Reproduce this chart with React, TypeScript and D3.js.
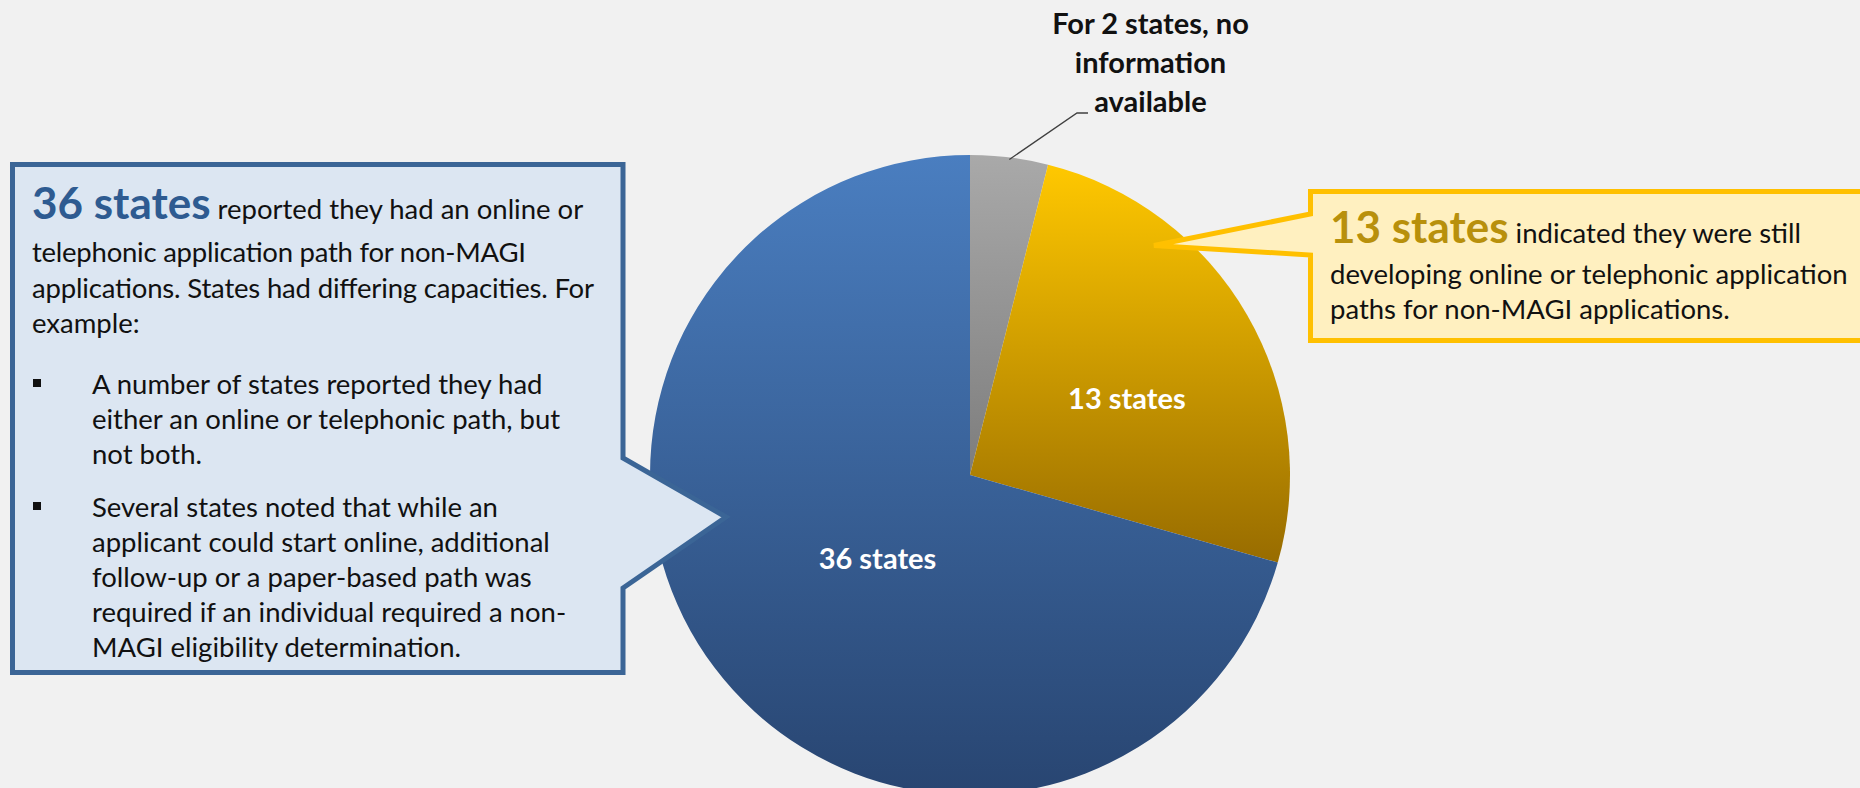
import React from 'react';
import * as d3 from 'd3';

// Slice data, ordered clockwise from 12 o'clock
const sliceKeys = ['noInfo', 'developing', 'available'];
const stateCounts = [2, 13, 36];
const sliceLabels = ['', '13 states', '36 states'];

// Callout text
const noInfoLines = ['For 2 states, no', 'information', 'available'];

const leftLeadCount = '36 states';
const leftLeadRest = ' reported they had an online or';
const leftLines = [
  'telephonic application path for non-MAGI',
  'applications. States had differing capacities. For',
  'example:',
];
const leftBullets = [
  ['A number of states reported they had', 'either an online or telephonic path, but', 'not both.'],
  [
    'Several states noted that while an',
    'applicant could start online, additional',
    'follow-up or a paper-based path was',
    'required if an individual required a non-',
    'MAGI eligibility determination.',
  ],
];

const rightLeadCount = '13 states';
const rightLeadRest = ' indicated they were still';
const rightLines = ['developing online or telephonic application', 'paths for non-MAGI applications.'];

const W = 1860;
const H = 788;
const FONT = "Lato, 'Open Sans', sans-serif";

const gradients: Record<string, [string, string]> = {
  noInfo: ['#A9A9A9', '#7D7D7D'],
  developing: ['#FFC800', '#986C00'],
  available: ['#4A7EC0', '#284571'],
};

// label placement: fraction along the slice's angular span, fraction of radius
const labelPlacement: Record<string, { t: number; r: number }> = {
  noInfo: { t: 0.5, r: 0.6 },
  developing: { t: 0.545, r: 0.545 },
  available: { t: 0.48, r: 0.39 },
};

// set widths for the first paragraph's wrapped lines (px)
const leftLineWidths: (number | undefined)[] = [494, 562, undefined];

export default function App() {
  const cx = 970;
  const cy = 475;
  const radius = 320;

  const pie = d3
    .pie<number>()
    .sort(null)
    .value((d) => d)
    .startAngle(0)
    .endAngle(2 * Math.PI);
  const arcs = pie(stateCounts);
  const arc = d3.arc<d3.PieArcDatum<number>>().innerRadius(0).outerRadius(radius);

  const bodySize = 27.5;
  const leadSize = 44;
  const lineStep = 35;

  // left callout outline (stroke centerline)
  const L = { x0: 12.5, y0: 164.5, x1: 623, y1: 672.5 };
  const leftPath = [
    [L.x0, L.y0],
    [L.x1, L.y0],
    [L.x1, 458],
    [726, 517],
    [L.x1, 588],
    [L.x1, L.y1],
    [L.x0, L.y1],
  ];
  const R = { x0: 1310.5, y0: 191.5, x1: 1875, y1: 340.5 };
  const rightPath = [
    [R.x0, R.y0],
    [R.x1, R.y0],
    [R.x1, R.y1],
    [R.x0, R.y1],
    [R.x0, 255],
    [1154, 245.5],
    [R.x0, 214],
  ];
  const line = d3.line();

  const bulletStart = [394, 517];

  return (
    <svg
      width={W}
      height={H}
      viewBox={`0 0 ${W} ${H}`}
      style={{ position: 'absolute', left: 0, top: 0, display: 'block' }}
      fontFamily={FONT}
    >
      <defs>
        {sliceKeys.map((k) => (
          <linearGradient key={k} id={`grad-${k}`} x1="0" y1="0" x2="0" y2="1">
            <stop offset="0" stopColor={gradients[k][0]} />
            <stop offset="1" stopColor={gradients[k][1]} />
          </linearGradient>
        ))}
      </defs>
      <rect x={0} y={0} width={W} height={H} fill="#F1F1F1" />

      {/* pie */}
      <g transform={`translate(${cx},${cy})`}>
        {arcs.map((a, i) => (
          <path key={sliceKeys[i]} d={arc(a) || ''} fill={`url(#grad-${sliceKeys[i]})`} />
        ))}
        {arcs.map((a, i) => {
          if (!sliceLabels[i]) return null;
          const p = labelPlacement[sliceKeys[i]];
          const ang = a.startAngle + p.t * (a.endAngle - a.startAngle);
          const rr = p.r * radius;
          return (
            <text
              key={`lbl-${i}`}
              x={rr * Math.sin(ang)}
              y={-rr * Math.cos(ang)}
              dy="0.35em"
              textAnchor="middle"
              fill="#FFFFFF"
              fontWeight={700}
              fontSize={29}
            >
              {sliceLabels[i]}
            </text>
          );
        })}
      </g>

      {/* leader line for the small slice */}
      {(() => {
        const a = arcs[0];
        const mid = (a.startAngle + a.endAngle) / 2;
        const px = cx + radius * Math.sin(mid);
        const py = cy - radius * Math.cos(mid);
        return (
          <polyline
            points={`${px},${py + 2} 1077,113 1088,113`}
            fill="none"
            stroke="#404040"
            strokeWidth={1.3}
          />
        );
      })()}
      <text textAnchor="middle" fontWeight={700} fontSize={29} fill="#111">
        {noInfoLines.map((t, i) => (
          <tspan key={t} x={1150.5} y={34 + i * 38.8}>
            {t}
          </tspan>
        ))}
      </text>

      {/* left callout */}
      <path
        d={(line(leftPath as [number, number][]) || '') + 'Z'}
        fill="#DCE6F2"
        stroke="#3B6596"
        strokeWidth={5}
        strokeLinejoin="miter"
        strokeMiterlimit={10}
      />
      <text fill="#111" fontSize={bodySize}>
        <tspan x={32} y={219}>
          <tspan fontSize={leadSize} fontWeight={700} fill="#2E5B91">
            {leftLeadCount}
          </tspan>
          <tspan>{leftLeadRest}</tspan>
        </tspan>
      </text>
      {leftLines.map((t, i) => (
        <text
          key={t}
          x={32}
          y={262 + i * 35.5}
          fill="#111"
          fontSize={bodySize}
          textLength={leftLineWidths[i]}
          lengthAdjust={leftLineWidths[i] ? 'spacing' : undefined}
        >
          {t}
        </text>
      ))}
      {leftBullets.map((items, bi) => (
        <g key={`b-${bi}`}>
          <rect x={33} y={bulletStart[bi] - 15} width={8} height={8} fill="#111" />
          <text fill="#111" fontSize={bodySize}>
            {items.map((t, i) => (
              <tspan key={t} x={92} y={bulletStart[bi] + i * lineStep}>
                {t}
              </tspan>
            ))}
          </text>
        </g>
      ))}

      {/* right callout */}
      <path
        d={(line(rightPath as [number, number][]) || '') + 'Z'}
        fill="#FFF0C0"
        stroke="#FFC000"
        strokeWidth={5}
        strokeLinejoin="miter"
        strokeMiterlimit={4}
      />
      <text fill="#111" fontSize={bodySize}>
        <tspan x={1330} y={243}>
          <tspan fontSize={leadSize} fontWeight={700} fill="#B8900C">
            {rightLeadCount}
          </tspan>
          <tspan>{rightLeadRest}</tspan>
        </tspan>
        {rightLines.map((t, i) => (
          <tspan key={t} x={1330} y={284 + i * 35}>
            {t}
          </tspan>
        ))}
      </text>
    </svg>
  );
}
